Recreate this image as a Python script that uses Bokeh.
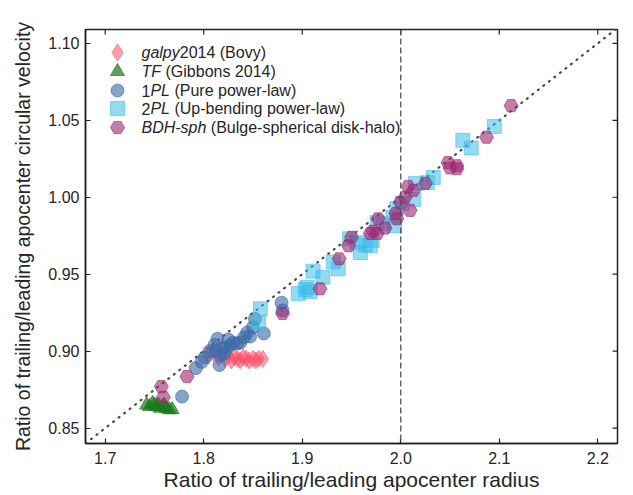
from bokeh.plotting import figure
from bokeh.models import Range1d, FixedTicker, PrintfTickFormatter, Span, Label
from bokeh.embed import file_html
from bokeh.resources import INLINE

# ---------------- data ----------------
galpy_x = [1.805, 1.810, 1.815, 1.818, 1.822, 1.825, 1.828, 1.831, 1.834, 1.837,
           1.840, 1.843, 1.846, 1.850, 1.853, 1.856, 1.860]
galpy_y = [0.897, 0.899, 0.896, 0.898, 0.895, 0.897, 0.894, 0.896, 0.895, 0.894,
           0.896, 0.895, 0.894, 0.895, 0.894, 0.895, 0.895]

tf_x = [1.742, 1.745, 1.748, 1.750, 1.752, 1.754, 1.756, 1.758, 1.760, 1.762, 1.765, 1.768]
tf_y = [0.865, 0.864, 0.866, 0.865, 0.864, 0.865, 0.863, 0.864, 0.865, 0.863, 0.862, 0.862]

pl1_x = [1.778, 1.792, 1.798, 1.801, 1.806, 1.811, 1.814, 1.816, 1.819, 1.821,
         1.823, 1.825, 1.827, 1.830, 1.834, 1.837, 1.841, 1.844, 1.847, 1.850,
         1.852, 1.861, 1.879, 1.880, 1.812, 1.817]
pl1_y = [0.8705, 0.889, 0.893, 0.896, 0.900, 0.904, 0.908, 0.891, 0.902, 0.8985,
         0.902, 0.9075, 0.904, 0.9055, 0.905, 0.9055, 0.909, 0.912, 0.9095, 0.9155,
         0.921, 0.9115, 0.9315, 0.9265, 0.900, 0.897]

pl2_x = [1.8555, 1.8575, 1.896, 1.903, 1.905, 1.908, 1.911, 1.921, 1.9315, 1.9365,
         1.948, 1.956, 1.959, 1.964, 1.969, 1.971, 1.976, 1.982, 1.992, 1.994,
         1.996, 2.0015, 2.013, 2.015, 2.027, 2.033, 2.063, 2.0715, 2.095]
pl2_y = [0.9185, 0.9275, 0.9375, 0.940, 0.9415, 0.9388, 0.952, 0.948, 0.958, 0.9535,
         0.973, 0.9705, 0.964, 0.969, 0.9685, 0.972, 0.9835, 0.983, 0.987, 0.9815,
         0.9925, 0.996, 0.9985, 1.009, 1.0095, 1.0128, 1.037, 1.032, 1.046]

bdh_x = [1.757, 1.759, 1.783, 1.880, 1.918, 1.9375, 1.947, 1.950, 1.969, 1.972,
         1.976, 1.977, 1.984, 1.995, 1.996, 1.9995, 2.0045, 2.0075, 2.0095, 2.013,
         2.025, 2.048, 2.050, 2.057, 2.057, 2.087, 2.112]
bdh_y = [0.877, 0.870, 0.8835, 0.9245, 0.9405, 0.960, 0.9685, 0.974, 0.9765, 0.978,
         0.9765, 0.986, 0.980, 0.9895, 0.986, 0.9965, 1.000, 1.007, 0.9915, 1.0045,
         1.009, 1.0225, 1.019, 1.0205, 1.0185, 1.039, 1.0595]

ref_x = [1.68, 2.22]
ref_y = [0.84, 1.11]

x_ticks = [1.7, 1.8, 1.9, 2.0, 2.1, 2.2]
y_ticks = [0.85, 0.90, 0.95, 1.00, 1.05, 1.10]

X0, X1 = 1.68, 2.22
Y0, Y1 = 0.84, 1.109
FRAME_W, FRAME_H = 532, 414

FONT = "Liberation Sans"
TXT = "#262626"
AX = "#222222"

p = figure(frame_width=FRAME_W, frame_height=FRAME_H,
           x_range=Range1d(X0, X1), y_range=Range1d(Y0, Y1),
           output_backend="svg", toolbar_location=None,
           min_border_left=85, min_border_right=8, min_border_top=29, min_border_bottom=46)
p.xgrid.visible = False
p.ygrid.visible = False
p.outline_line_color = AX
p.outline_line_width = 1.5
p.background_fill_color = "white"


def style_axis(ax, ticks, fmt):
    ax.ticker = FixedTicker(ticks=ticks)
    ax.formatter = PrintfTickFormatter(format=fmt)
    ax.major_tick_in = 5
    ax.major_tick_out = 0
    ax.major_tick_line_color = AX
    ax.major_tick_line_width = 1.2
    ax.minor_tick_line_color = None
    ax.axis_line_color = AX
    ax.axis_line_width = 1.5
    ax.major_label_text_font = FONT
    ax.major_label_text_color = TXT
    ax.major_label_text_font_size = "16px"
    ax.axis_label_text_font = FONT
    ax.axis_label_text_font_style = "normal"
    ax.axis_label_text_color = TXT


xa = p.xaxis[0]
ya = p.yaxis[0]
style_axis(xa, x_ticks, "%.1f")
style_axis(ya, y_ticks, "%.2f")
xa.axis_label = "Ratio of trailing/leading apocenter radius"
ya.axis_label = "Ratio of trailing/leading apocenter circular velocity"
xa.axis_label_text_font_size = "21px"
ya.axis_label_text_font_size = "19.5px"
xa.major_label_standoff = 8
xa.axis_label_standoff = 1
ya.major_label_standoff = 6
ya.axis_label_standoff = 11

# inward ticks on the top and right edges (mirrors of the bottom/left ticks)
tick_dx = 5 * (X1 - X0) / FRAME_W
tick_dy = 5 * (Y1 - Y0) / FRAME_H
p.segment(x0=x_ticks, y0=[Y1] * len(x_ticks), x1=x_ticks, y1=[Y1 - tick_dy] * len(x_ticks),
          line_color=AX, line_width=1.2)
p.segment(x0=[X1] * len(y_ticks), y0=y_ticks, x1=[X1 - tick_dx] * len(y_ticks), y1=y_ticks,
          line_color=AX, line_width=1.2)

# reference lines
p.line(ref_x, ref_y, line_color="#4a4a4a", line_width=2.2, line_dash="1 6", line_cap="round")
p.add_layout(Span(location=2.0, dimension="height", line_color="#505050",
                  line_width=1.3, line_dash="6 3"))

styles = [
    dict(marker="diamond", size=17, color="#ff4f68", alpha=0.55),
    dict(marker="triangle", size=14, color="#1b7a1b", alpha=0.7),
    dict(marker="circle", size=13, color="#3c6ba8", alpha=0.62),
    dict(marker="square", size=14, color="#3bbcea", alpha=0.55),
    dict(marker="hex", size=14, color="#a0246f", alpha=0.6),
]
series = [(galpy_x, galpy_y), (tf_x, tf_y), (pl1_x, pl1_y), (pl2_x, pl2_y), (bdh_x, bdh_y)]

for (sx, sy), st in zip(series, styles):
    p.scatter(sx, sy, marker=st["marker"], size=st["size"], fill_color=st["color"],
              fill_alpha=st["alpha"], line_color=st["color"], line_alpha=st["alpha"],
              line_width=1)

# ---------------- manual legend (mixed italic) ----------------
mark_sx = 32
text_sx = 56
row_sy = [391, 372, 353, 335, 316]
fs = 16
em = fs
legend_parts = [
    [("galpy", "italic", 2.39), ("2014 (Bovy)", "normal", None)],
    [("TF", "italic", 1.222), ("(Gibbons 2014)", "normal", None)],
    [("1", "normal", 0.556), ("PL", "italic", 1.223), ("(Pure power-law)", "normal", None)],
    [("2", "normal", 0.556), ("PL", "italic", 1.223), ("(Up-bending power-law)", "normal", None)],
    [("BDH-sph", "italic", 4.056), ("(Bulge-spherical disk-halo)", "normal", None)],
]
space_before = [
    [0, 0],
    [0, 1],
    [0, 0, 1],
    [0, 0, 1],
    [0, 1],
]

for i, st in enumerate(styles):
    lx = X0 + mark_sx / FRAME_W * (X1 - X0)
    ly = Y0 + row_sy[i] / FRAME_H * (Y1 - Y0)
    p.scatter([lx], [ly], marker=st["marker"], size=st["size"], fill_color=st["color"],
              fill_alpha=st["alpha"], line_color=st["color"], line_alpha=st["alpha"])
    cx = text_sx
    for j, (txt, style, w) in enumerate(legend_parts[i]):
        cx += space_before[i][j] * 0.278 * em
        p.add_layout(Label(x=cx, y=row_sy[i], x_units="screen", y_units="screen", text=txt,
                           text_font=FONT, text_font_size=f"{fs}px", text_font_style=style,
                           text_color=TXT, text_baseline="middle", text_align="left"))
        if w is not None:
            cx += w * em

open("out.html", "w").write(file_html(p, INLINE))
